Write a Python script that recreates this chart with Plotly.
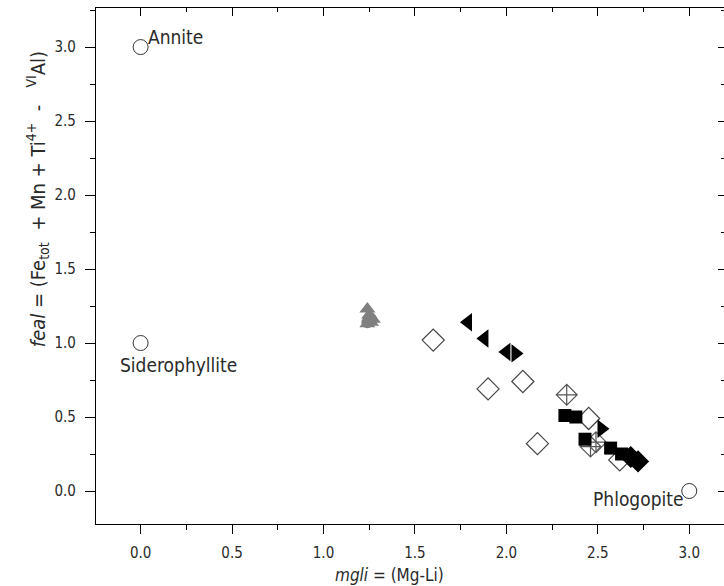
import plotly.graph_objects as go

# End members
end_x = [0.0, 0.0, 3.0]
end_y = [3.0, 1.0, 0.0]
end_names = ["Annite", "Siderophyllite", "Phlogopite"]

# Gray triangles / blobs
gray_x = [1.24, 1.25, 1.27, 1.24, 1.26]
gray_y = [1.23, 1.19, 1.16, 1.13, 1.14]
grayc_x = [1.26, 1.24]
grayc_y = [1.16, 1.14]

# Black left triangles
tl_x = [1.79, 1.88, 2.00]
tl_y = [1.14, 1.03, 0.94]

# Black right triangles
tr_x = [2.05, 2.52]
tr_y = [0.93, 0.42]

# Open diamonds
od_x = [1.60, 1.90, 2.09, 2.17, 2.45, 2.62]
od_y = [1.02, 0.69, 0.74, 0.32, 0.49, 0.21]

# Crossed diamonds
cd_x = [2.33, 2.49, 2.46]
cd_y = [0.65, 0.33, 0.30]

# Black squares
sq_x = [2.32, 2.38, 2.43, 2.57, 2.63]
sq_y = [0.51, 0.50, 0.35, 0.29, 0.25]

# Black diamonds
bd_x = [2.68, 2.72]
bd_y = [0.23, 0.20]

ticks_v = [0, 0.5, 1, 1.5, 2, 2.5, 3]
ticks_t = ["0.0", "0.5", "1.0", "1.5", "2.0", "2.5", "3.0"]

FONT = "DejaVu Sans Condensed, sans-serif"
TXT = "#2a2a2a"

fig = go.Figure()
fig.add_trace(go.Scatter(x=end_x, y=end_y, mode="markers",
    marker=dict(symbol="circle-open", size=15, color="#333", line=dict(width=1))))
fig.add_trace(go.Scatter(x=gray_x, y=gray_y, mode="markers",
    marker=dict(symbol="triangle-up", size=14, color="#808080")))
fig.add_trace(go.Scatter(x=grayc_x, y=grayc_y, mode="markers",
    marker=dict(symbol="circle", size=12, color="#808080")))
fig.add_trace(go.Scatter(x=od_x, y=od_y, mode="markers",
    marker=dict(symbol="diamond-open", size=17, color="#444", line=dict(width=1.2))))
fig.add_trace(go.Scatter(x=cd_x, y=cd_y, mode="markers",
    marker=dict(symbol="diamond-cross-open", size=16, color="#555", line=dict(width=1.2))))
fig.add_trace(go.Scatter(x=tl_x, y=tl_y, mode="markers",
    marker=dict(symbol="triangle-left", size=16, color="black")))
fig.add_trace(go.Scatter(x=tr_x, y=tr_y, mode="markers",
    marker=dict(symbol="triangle-right", size=16, color="black")))
fig.add_trace(go.Scatter(x=sq_x, y=sq_y, mode="markers",
    marker=dict(symbol="square", size=13, color="black")))
fig.add_trace(go.Scatter(x=bd_x, y=bd_y, mode="markers",
    marker=dict(symbol="diamond", size=17, color="black")))

fig.add_annotation(x=end_x[0], y=end_y[0], text=end_names[0], showarrow=False,
                   xanchor="left", yanchor="bottom", xshift=5, yshift=-3,
                   font=dict(size=19, color=TXT, family=FONT))
fig.add_annotation(x=end_x[1], y=end_y[1], text=end_names[1], showarrow=False,
                   xanchor="left", yanchor="top", xshift=-23, yshift=-9,
                   font=dict(size=19, color=TXT, family=FONT))
fig.add_annotation(x=end_x[2], y=end_y[2], text=end_names[2], showarrow=False,
                   xanchor="right", yanchor="top", xshift=-4, yshift=5,
                   font=dict(size=19, color=TXT, family=FONT))

# axis titles as annotations
fig.add_annotation(xref="paper", yref="paper", x=0.467, y=-0.098, text="<i>mgli</i> = (Mg-Li)",
                   showarrow=False, xanchor="center", yanchor="middle",
                   font=dict(size=17, color=TXT, family=FONT))
fig.add_annotation(xref="paper", yref="paper", x=-0.092, y=0.63,
                   text="<i>feal</i> = (Fe<sub>tot</sub>&nbsp; + Mn + Ti<sup>4+</sup>&nbsp;&nbsp;-&nbsp;&nbsp;&nbsp;<sup>VI</sup>Al)",
                   showarrow=False, xanchor="center", yanchor="middle", textangle=-90,
                   font=dict(size=20, color=TXT, family=FONT))

xr = [-0.244, 3.19]
yr = [-0.223, 3.264]
tickfont = dict(size=15, color=TXT, family=FONT)

fig.update_layout(
    width=724, height=586,
    margin=dict(l=96, r=0, t=8, b=62),
    plot_bgcolor="white", paper_bgcolor="white",
    showlegend=False,
    font=dict(family=FONT),
    xaxis=dict(range=xr, tickvals=ticks_v, ticktext=ticks_t,
               ticks="outside", ticklen=9, tickwidth=1, tickcolor="black",
               minor=dict(dtick=0.25, tick0=0, ticks="outside", ticklen=5, tickcolor="black"),
               showline=True, linecolor="black", linewidth=1.2,
               showgrid=False, zeroline=False, tickfont=tickfont, ticklabelstandoff=6),
    yaxis=dict(range=yr, tickvals=ticks_v, ticktext=ticks_t,
               ticks="outside", ticklen=10, tickwidth=1, tickcolor="black",
               minor=dict(dtick=0.25, tick0=0, ticks="outside", ticklen=5, tickcolor="black"),
               showline=True, linecolor="black", linewidth=1.2,
               showgrid=False, zeroline=False, tickfont=tickfont, ticklabelstandoff=6),
    xaxis2=dict(range=xr, overlaying="x", side="top", anchor="y",
                tickvals=ticks_v, ticks="inside", ticklen=8,
                tickcolor="black", showticklabels=False,
                minor=dict(dtick=0.25, tick0=0, ticks="inside", ticklen=4, tickcolor="black"),
                showline=True, linecolor="black", linewidth=1.2, showgrid=False, zeroline=False),
    yaxis2=dict(range=yr, overlaying="y", side="right", anchor="x",
                tickvals=ticks_v, ticks="inside", ticklen=6,
                tickcolor="black", showticklabels=False,
                minor=dict(dtick=0.25, tick0=0, ticks="inside", ticklen=3, tickcolor="black"),
                showline=False, showgrid=False, zeroline=False),
)
# dummy trace to activate secondary axes
fig.add_trace(go.Scatter(x=[None], y=[None], xaxis="x2", yaxis="y2", showlegend=False))

fig.write_html("out.html")
